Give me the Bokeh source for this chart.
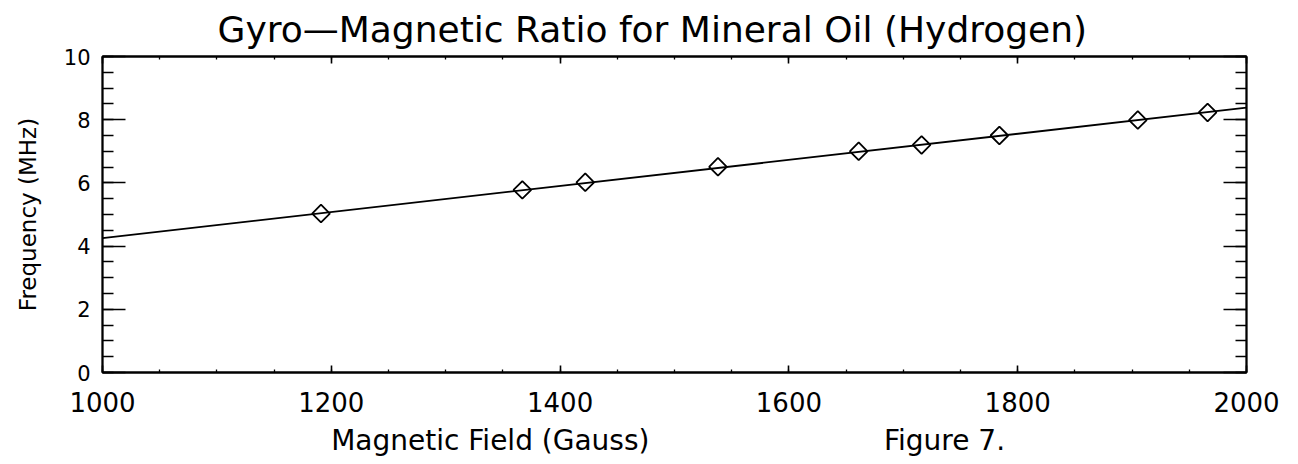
import numpy as np
from bokeh.plotting import figure
from bokeh.layouts import column
from bokeh.models import Range1d, LinearAxis, FixedTicker, Title, CustomJSTickFormatter
from bokeh.core.properties import value
from bokeh.embed import file_html
from bokeh.resources import INLINE

# ---- data ----
field_gauss = [1191, 1367, 1422, 1538, 1661, 1716, 1784, 1905, 1966]
freq_mhz = [5.03, 5.78, 6.02, 6.51, 7.00, 7.20, 7.50, 7.99, 8.23]
fit_field = [1000, 2000]
fit_freq = [4.25, 8.38]

x_major = [1000, 1200, 1400, 1600, 1800, 2000]
x_minor = [1000 + 50 * i for i in range(21)]
y_major = [0, 2, 4, 6, 8, 10]
y_minor = [0.5 * i for i in range(21)]

title_text = "Gyro\u2014Magnetic Ratio for Mineral Oil (Hydrogen)"
ylabel_text = "Frequency (MHz)"
bottom_texts = ["Magnetic Field (Gauss)", "Figure 7."]
bottom_text_x = [1339, 1736]

FONT = "DejaVu Sans"
LEFT, RIGHT = 102, 44

xr = Range1d(1000, 2000)
p = figure(width=1290, height=420,
           x_range=xr, y_range=Range1d(0, 10),
           output_backend="svg", toolbar_location=None,
           x_axis_location=None, y_axis_location=None,
           min_border_left=LEFT, min_border_right=RIGHT,
           min_border_top=54, min_border_bottom=48)
p.grid.visible = False
p.outline_line_color = "black"
p.outline_line_width = 1.8
p.background_fill_color = "white"
p.border_fill_color = "white"

blank = CustomJSTickFormatter(code="return ''")

def make_axis(ticks, minor, tin, min_in, labels, fs):
    ax = LinearAxis(ticker=FixedTicker(ticks=ticks, minor_ticks=minor))
    ax.major_tick_in = tin
    ax.major_tick_out = 0
    ax.minor_tick_in = min_in
    ax.minor_tick_out = 0
    ax.axis_line_color = "black"
    ax.axis_line_width = 1.8
    ax.major_tick_line_color = "black"
    ax.major_tick_line_width = 1.6
    ax.minor_tick_line_color = "black"
    ax.minor_tick_line_width = 1.3
    ax.major_label_text_font = FONT
    ax.major_label_text_color = "black"
    ax.major_label_text_font_size = fs
    if not labels:
        ax.formatter = blank
        ax.major_label_standoff = 0
    return ax

xb = make_axis(x_major, x_minor, 7, 3, True, "26px")
xb.major_label_standoff = 19
xt = make_axis(x_major, x_minor, 7, 3, False, "1px")
yl = make_axis(y_major, y_minor, 23, 11, True, "21px")
yl.major_label_standoff = 12
yl.axis_label = ylabel_text
yl.axis_label_text_font = FONT
yl.axis_label_text_font_style = "normal"
yl.axis_label_text_font_size = "23px"
yl.axis_label_text_color = "black"
yl.axis_label_standoff = 20
yr = make_axis(y_major, y_minor, 23, 11, False, "1px")

p.add_layout(xb, "below")
p.add_layout(xt, "above")
p.add_layout(yl, "left")
p.add_layout(yr, "right")

p.title = Title(text=title_text, align="left", offset=115, text_font=FONT,
                text_font_size="36px", text_font_style="normal",
                text_color="black", standoff=13)

# fitted line and data points
p.line(fit_field, fit_freq, line_color="black", line_width=1.8)
p.scatter(field_gauss, freq_mhz, marker="square", angle=np.pi / 4, size=12.5,
          line_color="black", line_width=1.8, fill_alpha=0)

# strip below the plot carrying the x-axis title and the figure note
p2 = figure(width=1290, height=36, x_range=xr, y_range=Range1d(-1, 1),
            output_backend="svg", toolbar_location=None,
            x_axis_location=None, y_axis_location=None,
            min_border_left=LEFT, min_border_right=RIGHT,
            min_border_top=0, min_border_bottom=0)
p2.grid.visible = False
p2.outline_line_color = None
p2.background_fill_color = "white"
p2.border_fill_color = "white"
p2.text(x=bottom_text_x, y=[-0.1, -0.1], text=bottom_texts,
        text_font=value(FONT), text_font_size="28px", text_color="black",
        text_align="center", text_baseline="middle")

layout = column(p, p2, spacing=0)
open("out.html", "w").write(file_html(layout, INLINE))
